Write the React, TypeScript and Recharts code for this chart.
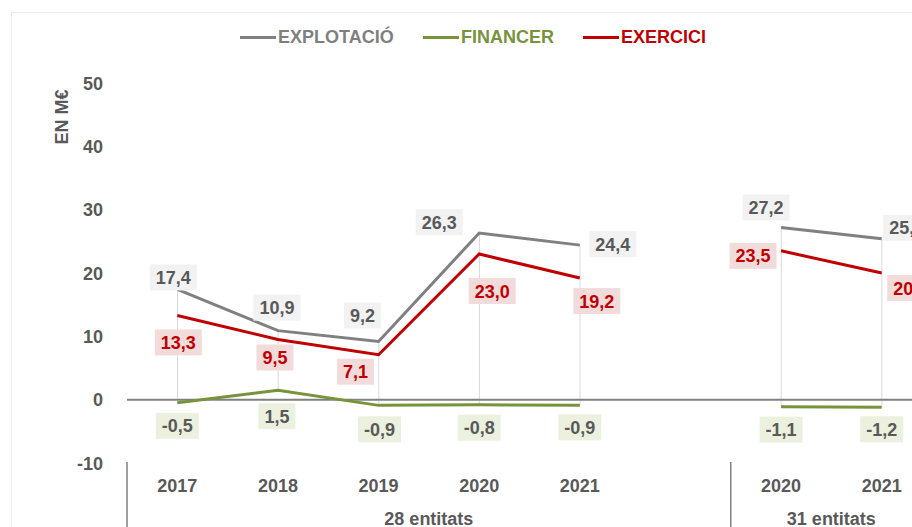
import React from 'react';
import { ComposedChart, Line, Bar, XAxis, YAxis, ReferenceLine, LabelList } from 'recharts';

const FONT = '"Liberation Sans", Arial, sans-serif';

// ---- data ----
const years = ['2017', '2018', '2019', '2020', '2021', '', '2020', '2021'];
const groups = [
  { label: '28 entitats', start: 0, span: 6 },
  { label: '31 entitats', start: 6, span: 2 },
];
const explotacio: (number | null)[] = [17.4, 10.9, 9.2, 26.3, 24.4, null, 27.2, 25.4];
const financer: (number | null)[] = [-0.5, 1.5, -0.9, -0.8, -0.9, null, -1.1, -1.2];
const exercici: (number | null)[] = [13.3, 9.5, 7.1, 23.0, 19.2, null, 23.5, 20.0];
const yTicks = [-10, 0, 10, 20, 30, 40, 50];

// ---- label placement (style) ----
const grayOffsets = [[-4, -12], [-1, -23], [-16, -26], [-40, -11], [33, -1], null, [-15, -20], [25, -11]];
const redOffsets = [[1, 27], [-3, 18], [-23, 17], [13, 37], [17, 23], null, [-28, 5], [29, 15]];
const greenOffsets = [[0, 23], [-1, 26], [1, 24], [0, 23], [0, 22], null, [0, 23], [0, 22]];

const GRAY = '#808080';
const GREEN = '#77933c';
const RED = '#c00000';
const TEXT = '#595959';

const data = years.map((y, i) => {
  const vals = [explotacio[i], financer[i], exercici[i]].filter((v) => v != null) as number[];
  return {
    key: 'c' + i,
    year: y,
    explotacio: explotacio[i],
    financer: financer[i],
    exercici: exercici[i],
    hl: vals.length ? [Math.min(...vals), Math.max(...vals)] : null,
  };
});

const fmt = (v: number) => v.toFixed(1).replace('.', ',');
const approxW = (s: string) => {
  let w = 0;
  for (const c of s) w += c === ',' ? 5 : c === '-' ? 6 : 10;
  return w;
};

const makeLabel = (offsets: any[], bg: string, color: string) => (props: any) => {
  const { x, y, value, index } = props;
  if (value == null || x == null || y == null) return null;
  const off = offsets[index];
  if (!off) return null;
  const s = fmt(Number(value));
  const w = approxW(s) + 12;
  const h = 26;
  const cx = x + off[0];
  const cy = y + off[1];
  return (
    <g>
      <rect x={cx - w / 2} y={cy - h / 2} width={w} height={h} fill={bg} />
      <text x={cx} y={cy + 6.5} textAnchor="middle" fontFamily={FONT} fontWeight="bold" fontSize={18} fill={color}>
        {s}
      </text>
    </g>
  );
};

const CHART_W = 960;
const CHART_H = 519;
const PLOT_W = 805;

const XTick = (props: any) => {
  const { x, y, payload } = props;
  const i = payload.index ?? props.index;
  const half = payload.offset ? payload.offset : PLOT_W / years.length / 2;
  const band = half * 2;
  const grp = groups.find((g) => g.start === i);
  return (
    <g>
      <text x={x} y={y + 28.5} textAnchor="middle" fontFamily={FONT} fontWeight="bold" fontSize={18} fill={TEXT}>
        {years[i]}
      </text>
      {grp && (
        <g>
          <line x1={x - half} x2={x - half} y1={y - 1} y2={y + 64} stroke={GRAY} strokeWidth={1.5} />
          <text
            x={x - half + (grp.span * band) / 2}
            y={y + 61.5}
            textAnchor="middle"
            fontFamily={FONT}
            fontWeight="bold"
            fontSize={18}
            fill={TEXT}
          >
            {grp.label}
          </text>
        </g>
      )}
    </g>
  );
};

const YTick = (props: any) => {
  const { x, y, payload } = props;
  return (
    <text x={x} y={y + 6.5} textAnchor="end" fontFamily={FONT} fontWeight="bold" fontSize={18} fill={TEXT}>
      {payload.value}
    </text>
  );
};

const YTitle = () => (
  <text
    x={0}
    y={0}
    transform="translate(60,109) rotate(-90)"
    textAnchor="middle"
    fontFamily={FONT}
    fontWeight="bold"
    fontSize={18}
    fill={TEXT}
  >
    EN M€
  </text>
);

const legendItems = [
  { label: 'EXPLOTACIÓ', color: GRAY, text: '#7f7f7f', left: 232 },
  { label: 'FINANCER', color: GREEN, text: GREEN, left: 415 },
  { label: 'EXERCICI', color: RED, text: RED, left: 575 },
];

export default function App() {
  return (
    <>
      <style>{'body{margin-right:0 !important;} #root{width:904px;}'}</style>
      <div style={{ position: 'relative', width: 904, height: 519, overflow: 'hidden', background: '#fff' }}>
        <div
          style={{
            position: 'absolute',
            left: 3,
            top: 4,
            width: 1000,
            height: 1000,
            border: '1px solid #ececec',
            boxSizing: 'border-box',
          }}
        />
        {legendItems.map((it) => (
          <div
            key={it.label}
            style={{
              position: 'absolute',
              left: it.left,
              top: 29 - 11,
              height: 22,
              display: 'flex',
              alignItems: 'center',
              fontFamily: FONT,
              fontWeight: 'bold',
              fontSize: 18,
              color: it.text,
              whiteSpace: 'nowrap',
            }}
          >
            <div style={{ width: 36, height: 3, background: it.color, marginRight: 2 }} />
            <span>{it.label}</span>
          </div>
        ))}
        <div style={{ position: 'absolute', left: 0, top: 0 }}>
          <ComposedChart
            width={CHART_W}
            height={CHART_H}
            data={data}
            margin={{ top: 75, right: 36, bottom: 0, left: 0 }}
            style={{ fontFamily: FONT }}
          >
            <XAxis
              dataKey="key"
              axisLine={false}
              tickLine={false}
              tickSize={0}
              tickMargin={0}
              height={64}
              interval={0}
              tick={<XTick />}
            />
            <YAxis
              domain={[-10, 50]}
              ticks={yTicks}
              axisLine={false}
              tickLine={false}
              tickSize={0}
              tickMargin={24}
              width={119}
              tick={<YTick />}
              label={{ content: () => <YTitle /> } as any}
            />
            <ReferenceLine y={0} stroke={GRAY} strokeWidth={2} ifOverflow="visible" />
            <Bar dataKey="hl" barSize={1} fill="#d9d9d9" isAnimationActive={false} />
            <Line
              dataKey="explotacio"
              stroke={GRAY}
              strokeWidth={3}
              dot={false}
              activeDot={false}
              connectNulls={false}
              isAnimationActive={false}
            >
              <LabelList dataKey="explotacio" content={makeLabel(grayOffsets, '#f2f2f2', TEXT)} />
            </Line>
            <Line
              dataKey="financer"
              stroke={GREEN}
              strokeWidth={3}
              dot={false}
              activeDot={false}
              connectNulls={false}
              isAnimationActive={false}
            >
              <LabelList dataKey="financer" content={makeLabel(greenOffsets, '#ebf1de', TEXT)} />
            </Line>
            <Line
              dataKey="exercici"
              stroke={RED}
              strokeWidth={3}
              dot={false}
              activeDot={false}
              connectNulls={false}
              isAnimationActive={false}
            >
              <LabelList dataKey="exercici" content={makeLabel(redOffsets, '#f2dcdb', RED)} />
            </Line>
          </ComposedChart>
        </div>
      </div>
    </>
  );
}
